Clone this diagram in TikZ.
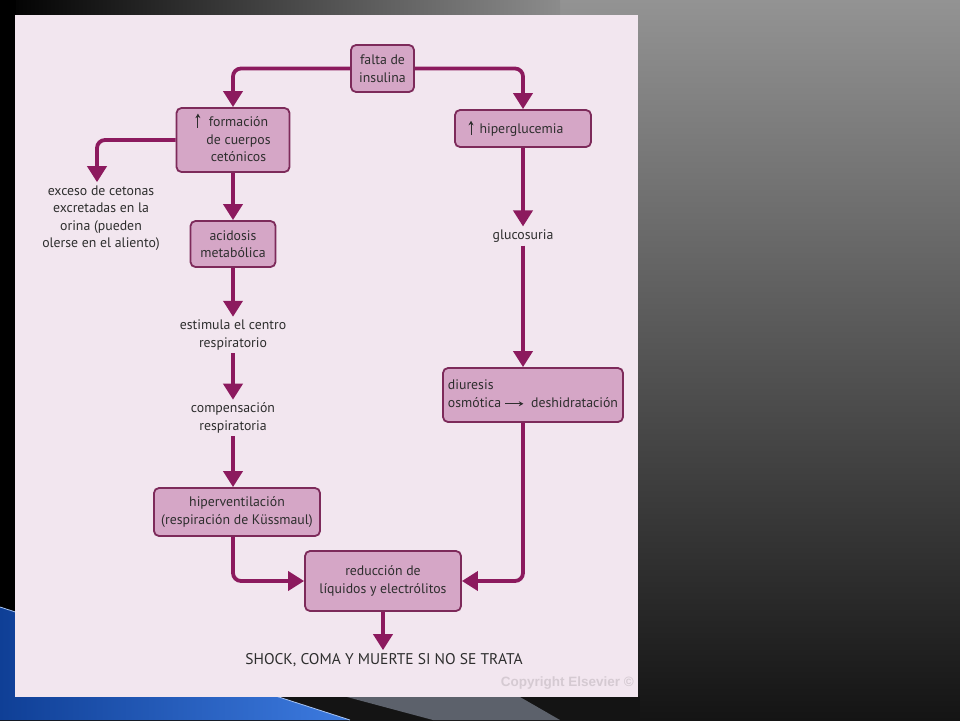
\documentclass[tikz,border=0pt]{standalone}
\usepackage{fontspec}
\setmainfont{PT Sans}
\newfontfamily\cfont{Liberation Sans}
\usetikzlibrary{arrows.meta}

\definecolor{bgtop}{HTML}{939393}
\definecolor{bgbot}{HTML}{141414}
\definecolor{panel}{HTML}{F2E6EF}
\definecolor{boxfill}{HTML}{D5A6C6}
\definecolor{boxline}{HTML}{7D2A5A}
\definecolor{flowc}{HTML}{8C1A5E}
\definecolor{txt}{HTML}{2E2E2E}
\definecolor{swblue}{HTML}{0F3F96}
\definecolor{swlight}{HTML}{3D7BE0}
\definecolor{swgray}{HTML}{5C616B}

\newcommand{\upar}{\tikz[baseline=0pt]\draw[txt,line width=0.9pt,-{Stealth[length=4.5pt,width=5pt]}] (0pt,-1pt) -- (0pt,13pt);}
\newcommand{\rar}{\tikz[baseline=-3.5pt]\draw[txt,line width=0.9pt,-{Stealth[length=4.5pt,width=5pt]}] (0pt,0pt) -- (18pt,0pt);}

\begin{document}
\begin{tikzpicture}[x=1pt,y=-1pt,font=\fontsize{13.8}{17.5}\selectfont,
	box/.style={draw=boxline,fill=boxfill,line width=1.8pt,rounded corners=5pt,align=center,inner sep=0pt,text=txt},
	lbl/.style={align=center,text=txt,inner sep=3pt},
	flow/.style={draw=flowc,line width=3.8pt,rounded corners=8pt,-{Triangle[width=19pt,length=16pt]}}]
	\useasboundingbox (0,0) rectangle (960,720);
	% slide background
	\begin{scope}
		\clip (0,0) rectangle (960,720);
		\shade[top color=bgtop,bottom color=bgbot] (0,0) rectangle (960,720);
		\shade[left color=black,right color=bgtop!95!black] (0,0) rectangle (560,16);
		\fill[black] (0,0) rectangle (16,720);
		\fill[black!92!white] (0,696) rectangle (640,720);
		\fill[swgray] (347,697) -- (520,697) -- (560,720) -- (433,720) -- cycle;
		\shade[left color=swblue,right color=swlight] (0,607) -- (350,720) -- (0,720) -- cycle;
		\draw[swlight!45!white,line width=0.8pt] (0,607) -- (350,720);
	\end{scope}
	\fill[panel] (15,15) rectangle (638,697);

	% boxes
	\node[box,minimum width=63pt,minimum height=47pt] (falta) at (382.5,68.5) {falta de\\insulina};
	\node[box,minimum width=113pt,minimum height=64pt] (form) at (233,140) {\upar\hspace{6pt}\begin{tabular}[t]{@{}c@{}}formación\\de cuerpos\\cetónicos\end{tabular}};
	\node[box,minimum width=136pt,minimum height=37pt] (hiper) at (523,128.5) {\upar\hspace{6pt}hiperglucemia\hspace{14pt}};
	\node[box,minimum width=85pt,minimum height=46pt] (acid) at (233,244) {acidosis\\metabólica};
	\node[box,minimum width=166pt,minimum height=48pt] (hipv) at (237,512) {hiperventilación\\(respiración de Küssmaul)};
	\node[box,minimum width=180pt,minimum height=54pt] (diur) at (533,395) {\begin{tabular}{@{}l@{}}diuresis\\osmótica \rar\ \ deshidratación\end{tabular}};
	\node[box,minimum width=156pt,minimum height=60pt] (reduc) at (383,581) {reducción de\\líquidos y electrólitos};

	% plain labels
	\node[lbl] (exc) at (101,218) {exceso de cetonas\\excretadas en la\\orina (pueden\\olerse en el aliento)};
	\node[lbl] (estim) at (233,335) {estimula el centro\\respiratorio};
	\node[lbl] (comp) at (233,418) {compensación\\respiratoria};
	\node[lbl] (gluc) at (523,236) {glucosuria};
	\node[lbl,font=\fontsize{15.5}{18}\selectfont] (shock) at (384,660) {SHOCK, COMA Y MUERTE SI NO SE TRATA};
	\node[anchor=east,text=panel!88!black,inner sep=0pt] (copy) at (634,683) {\cfont\bfseries\fontsize{13.5}{16}\selectfont Copyright Elsevier ©};

	% connectors
	\draw[flow] (falta.west) -| (form.north);
	\draw[flow] (falta.east) -| (hiper.north);
	\draw[flow] (form.west) -| ([xshift=-4pt]exc.north);
	\draw[flow] (form.south) -- (acid.north);
	\draw[flow] (acid.south) -- (estim.north);
	\draw[flow] (estim.south) -- (comp.north);
	\draw[flow] (comp.south) -- (comp.south |- hipv.north);
	\draw[flow] (comp.south |- hipv.south) |- (reduc.west);
	\draw[flow] (hiper.south) -- (gluc.north);
	\draw[flow] (gluc.south) -- (gluc.south |- diur.north);
	\draw[flow] (gluc.south |- diur.south) |- (reduc.east);
	\draw[flow] (reduc.south) -- (reduc.south |- shock.north);
\end{tikzpicture}
\end{document}
